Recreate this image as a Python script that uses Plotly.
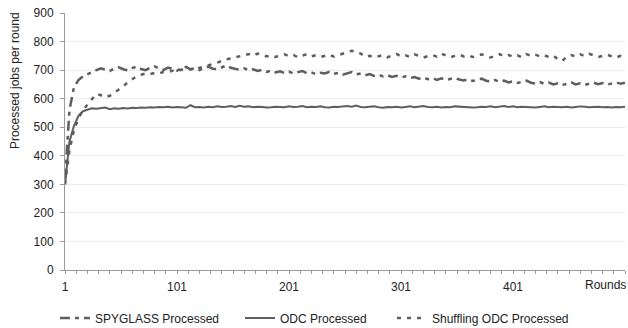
import plotly.graph_objects as go

# ---- data ----
rounds = list(range(1, 502, 4))  # sampled every 4 rounds, 1 .. 501

odc = [
    300, 450, 505, 540, 556, 562, 566, 565, 567, 569,
    563, 566, 565, 567, 566, 568, 567, 569, 568, 570,
    569, 571, 570, 572, 569, 571, 570, 568, 577, 570,
    571, 569, 572, 570, 573, 571, 572, 574, 571, 575,
    572, 573, 570, 572, 571, 569, 570, 572, 571, 570,
    573, 571, 572, 574, 570, 572, 571, 573, 570, 569,
    572, 571, 573, 574, 572, 576, 571, 570, 572, 573,
    570, 568, 571, 570, 572, 569, 571, 573, 570, 572,
    574, 571, 570, 572, 569, 571, 570, 573, 572, 570,
    571, 569, 570, 572, 571, 573, 570, 572, 574, 571,
    573, 570, 572, 571, 570, 569, 571, 573, 570, 572,
    571, 570, 572, 569, 571, 573, 572, 570, 571, 572,
    570, 571, 569, 571, 570, 572,
]

spyglass = [
    320, 560, 640, 665, 678, 686, 692, 700, 706, 702,
    697, 705, 710, 703, 699, 707, 712, 704, 700, 708,
    713, 705, 701, 709, 704, 698, 706, 711, 703, 707,
    700, 709, 712, 705, 703, 710, 716, 708, 704, 701,
    706, 699, 703, 697, 701, 694, 698, 692, 696, 690,
    695, 688, 693, 697, 689, 692, 686, 691, 688, 694,
    687, 690, 684, 689, 693, 685, 688, 682, 686, 680,
    684, 678, 682, 676, 680, 674, 678, 672, 676, 670,
    674, 668, 672, 666, 671, 665, 669, 673, 667, 664,
    668, 662, 666, 670, 663, 660, 665, 659, 663, 657,
    661, 655, 659, 663, 656, 653, 658, 652, 656, 650,
    654, 648, 652, 657, 650, 654, 648, 652, 656, 651,
    655, 649, 653, 657, 652, 656,
]

shuffling = [
    300, 420, 490, 530, 560, 580, 600, 617, 612, 605,
    610, 622, 632, 642, 658, 668, 678, 684, 688, 686,
    690, 688, 694, 692, 698, 695, 702, 698, 704, 700,
    708, 712, 716, 720, 726, 732, 738, 741, 745, 748,
    752, 756, 750, 758, 754, 748, 752, 746, 751, 755,
    749, 753, 745, 750, 756, 748, 752, 746, 750, 754,
    747, 752, 756, 762, 768, 764, 758, 746, 750, 744,
    749, 753, 745, 751, 757, 748, 752, 746, 755, 750,
    744, 749, 753, 747, 758, 751, 745, 750, 754, 748,
    752, 746, 751, 755, 749, 744, 750, 756, 748, 753,
    747, 752, 745, 756, 750, 754, 748, 752, 746, 751,
    738, 732, 748, 753, 747, 755, 749, 757, 752, 746,
    750, 754, 748, 744, 750, 747,
]

series_names = ["SPYGLASS Processed", "ODC Processed", "Shuffling ODC Processed"]
x_tick_vals = [1, 101, 201, 301, 401]
y_tick_vals = [0, 100, 200, 300, 400, 500, 600, 700, 800, 900]

# ---- figure ----
FONT = "Liberation Sans, Arial, sans-serif"
LINE = "#5e5e5e"
TXT = "#222222"

fig = go.Figure()
fig.add_trace(go.Scatter(x=rounds, y=spyglass, name=series_names[0], mode="lines",
                         legend="legend",
                         line=dict(color=LINE, width=2.5, dash="10px,5px,4px,5px")))
fig.add_trace(go.Scatter(x=rounds, y=odc, name=series_names[1], mode="lines",
                         legend="legend2",
                         line=dict(color=LINE, width=2)))
fig.add_trace(go.Scatter(x=rounds, y=shuffling, name=series_names[2], mode="lines",
                         legend="legend3",
                         line=dict(color=LINE, width=2.5, dash="4px,6px")))

leg_common = dict(orientation="h", xanchor="left", y=-0.187, yanchor="middle",
                  font=dict(family=FONT, size=12, color=TXT), bgcolor="rgba(0,0,0,0)")

fig.update_layout(
    width=628, height=328,
    margin=dict(l=65, r=3, t=13, b=58, autoexpand=False),
    paper_bgcolor="white", plot_bgcolor="white",
    font=dict(family=FONT, size=12, color=TXT),
    showlegend=True,
    legend=dict(x=-0.0179, **leg_common),
    legend2=dict(x=0.3125, **leg_common),
    legend3=dict(x=0.5839, **leg_common),
    annotations=[
        dict(text="Processed jobs per round", xref="paper", yref="paper",
             x=-0.0893, y=0.739, textangle=-90, showarrow=False,
             xanchor="center", yanchor="middle", font=dict(size=12, color=TXT)),
        dict(text="Rounds", xref="paper", yref="paper", x=1.0054, y=-0.058,
             xanchor="right", yanchor="middle", showarrow=False,
             font=dict(size=12, color=TXT)),
    ],
)

fig.update_xaxes(
    range=[1, 501], tickmode="array", tickvals=x_tick_vals,
    ticks="outside", ticklen=3, tickcolor="#9a9a9a", tickwidth=1,
    showline=True, linecolor="#9a9a9a", linewidth=1,
    showgrid=False, zeroline=False, automargin=False,
    tickfont=dict(size=12, color=TXT), ticklabelstandoff=3,
    minor=dict(tickmode="linear", tick0=1, dtick=10, ticks="outside", ticklen=3,
               tickcolor="#9a9a9a", showgrid=False),
)
fig.update_yaxes(
    range=[0, 900], tickmode="array", tickvals=y_tick_vals,
    ticks="outside", ticklen=4, tickcolor="#9a9a9a", tickwidth=1,
    showline=True, linecolor="#9a9a9a", linewidth=1,
    showgrid=True, gridcolor="#ececec", gridwidth=1, zeroline=False, automargin=False,
    tickfont=dict(size=12, color=TXT), ticklabelstandoff=4,
)

fig.write_html("out.html")
